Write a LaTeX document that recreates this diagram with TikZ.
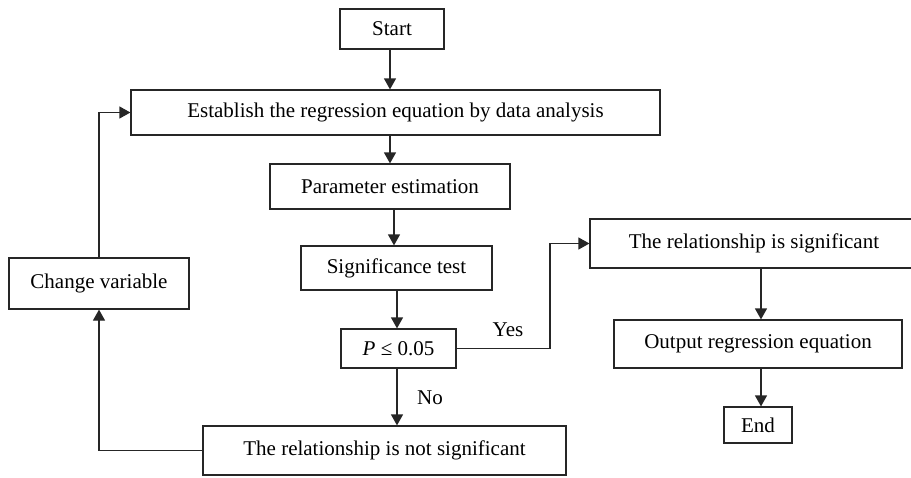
\documentclass[tikz,border=0pt]{standalone}
\usepackage{fontspec}
\setmainfont{Liberation Serif}
\usetikzlibrary{arrows.meta}
\begin{document}
\begin{tikzpicture}[x=1pt,y=-1pt,
  box/.style={draw=black!85,line width=1.2pt,minimum width=#1,inner sep=0pt,font=\fontsize{21}{24}\selectfont},
  conn/.style={draw=black!85,line width=1.2pt,-{Triangle[length=11pt,width=12pt]}},
  lab/.style={font=\fontsize{21}{24}\selectfont,inner sep=0pt}]
\useasboundingbox (0,0) rectangle (911,477);
\node[box=104pt,minimum height=40pt] (start) at (392,29) {Start};
\node[box=529pt,minimum height=45pt] (est) at (395.5,112.5) {Establish the regression equation by data analysis};
\node[box=240pt,minimum height=45pt] (par) at (390,186.5) {Parameter estimation};
\node[box=191pt,minimum height=44pt] (sig) at (396.5,268) {Significance test};
\node[box=115pt,minimum height=39pt] (p) at (398.5,348.5) {\textit{P} ≤ 0.05};
\node[box=363pt,minimum height=49pt] (ns) at (384.5,450.5) {The relationship is not significant};
\node[box=180pt,minimum height=51pt] (chg) at (99,283.5) {Change variable};
\node[box=328pt,minimum height=49pt] (rs) at (754,243.5) {The relationship is significant};
\node[box=288pt,minimum height=48pt] (out) at (758,344) {Output regression equation};
\node[box=68pt,minimum height=36pt] (end) at (758,425) {End};
\coordinate (xa) at (390,0);
\coordinate (xb) at (394,0);
\coordinate (xc) at (397,0);
\coordinate (xd) at (761,0);
\coordinate (yes) at (550,0);
\draw[conn] (xa |- start.south) -- (xa |- est.north);
\draw[conn] (xa |- est.south) -- (xa |- par.north);
\draw[conn] (xb |- par.south) -- (xb |- sig.north);
\draw[conn] (xc |- sig.south) -- (xc |- p.north);
\draw[conn] (xc |- p.south) -- (xc |- ns.north);
\draw[conn] (xd |- rs.south) -- (xd |- out.north);
\draw[conn] (xd |- out.south) -- (xd |- end.north);
\draw[conn] (ns.west) -| (chg.south);
\draw[conn] (chg.north) |- (est.west);
\draw[conn] (p.east) -| (yes |- rs.west) -- (rs.west);
\node[lab] (yeslab) at (508,330) {Yes};
\node[lab] (nolab) at (430,398) {No};
\end{tikzpicture}
\end{document}
